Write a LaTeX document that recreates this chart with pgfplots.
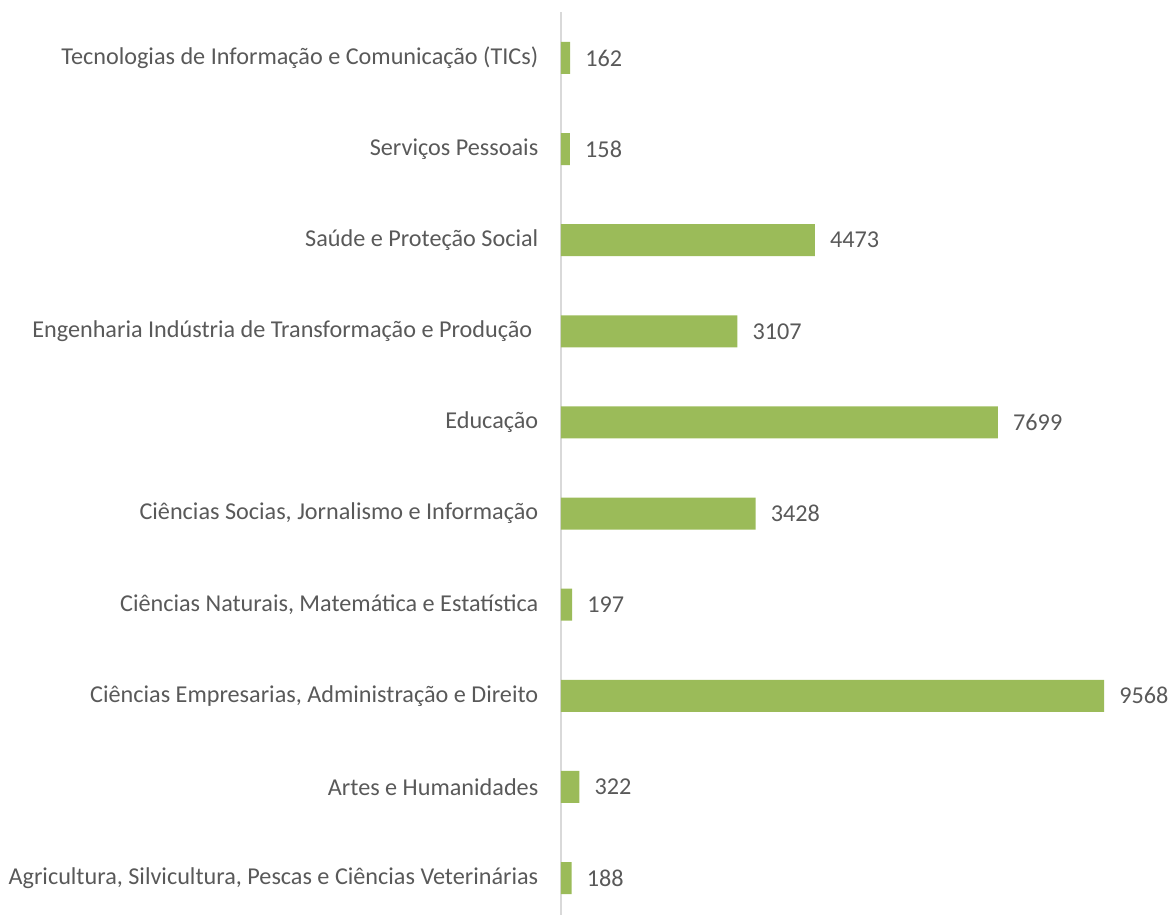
\documentclass[border=0pt]{standalone}
\usepackage{pgfplots}
\pgfplotsset{compat=1.18}
\usepackage{fontspec}
\setmainfont{Carlito}
\definecolor{bargreen}{HTML}{9BBB59}
\definecolor{txtgray}{HTML}{595959}
\definecolor{axgray}{HTML}{D9D9D9}
\begin{document}
\begin{tikzpicture}
\useasboundingbox (-561*0.75pt,-3*0.75pt) rectangle (611*0.75pt,915*0.75pt);
\begin{axis}[
  at={(0,0)}, anchor=south west,
  scale only axis,
  width=407.25pt, height=677.25pt,
  xmin=0, xmax=9568,
  ymin=-0.406, ymax=9.505,
  axis x line=none,
  axis y line=left,
  y axis line style={draw=axgray, line width=0.9pt, -},
  ytick={0,...,9},
  yticklabels={
    {Agricultura, Silvicultura, Pescas e Ciências Veterinárias},
    {Artes e Humanidades},
    {Ciências Empresarias, Administração e Direito},
    {Ciências Naturais, Matemática e Estatística},
    {Ciências Socias, Jornalismo e Informação},
    {Educação},
    {Engenharia Indústria de Transformação e Produção\hspace*{4.5pt}},
    {Saúde e Proteção Social},
    {Serviços Pessoais},
    {Tecnologias de Informação e Comunicação (TICs)}},
  ytick style={draw=none},
  yticklabel style={font=\fontsize{18.15pt}{20pt}\selectfont, text=txtgray, inner sep=0pt, xshift=-12.6pt},
  xbar, bar width=24pt,
  clip=false,
  /pgf/number format/assume math mode=true,
  /pgf/number format/set thousands separator={},
  nodes near coords,
  nodes near coords align=horizontal,
  every node near coord/.append style={font=\fontsize{18.15pt}{20pt}\selectfont, text=txtgray, anchor=west, inner sep=0pt, xshift=11.25pt},
  point meta=x,
]
\addplot[fill=bargreen, draw=none] coordinates {
  (188,0) (322,1) (9568,2) (197,3) (3428,4) (7699,5) (3107,6) (4473,7) (158,8) (162,9)
};
\end{axis}
\end{tikzpicture}
\end{document}
